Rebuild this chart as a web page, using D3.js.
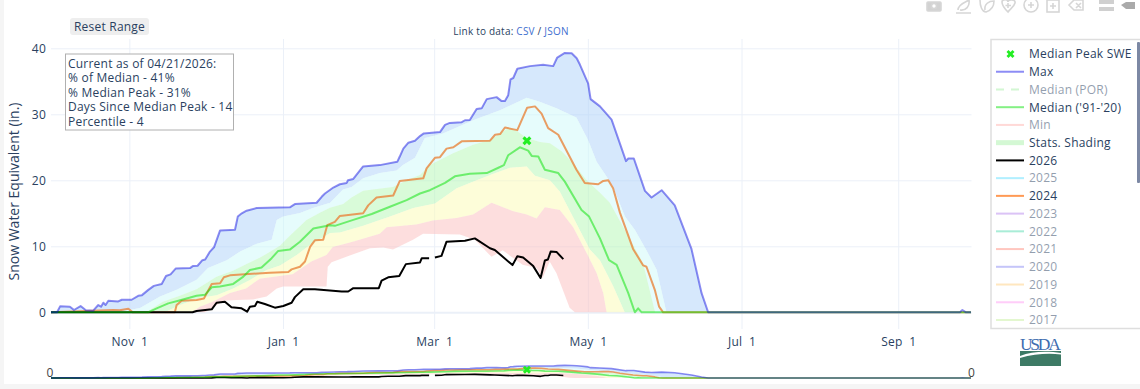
<!DOCTYPE html>
<html><head><meta charset="utf-8">
<script src="https://cdn.jsdelivr.net/npm/d3@7"></script>
<style>html,body{margin:0;padding:0;background:#fff}svg{display:block}text{font-family:"Open Sans",sans-serif;fill:#2a3f5f;white-space:pre;letter-spacing:.22px}</style>
</head><body><svg id="c" width="1140" height="389"></svg>
<script>
// ---- data: days since Oct 1 (axis days) and inches of snow water equivalent ----
const tickDays = [31, 91.8, 151.6, 212.4, 273.2, 335.2];
const tickLabels = ["Nov  1", "Jan  1", "Mar  1", "May  1", "Jul  1", "Sep  1"];
const yTicks = [0, 10, 20, 30, 40];

const maxDays = [0,2.4,3.6,7.5,9.1,11.7,13.8,16.7,18.7,19.8,20.7,21.6,22.7,26.6,28,31.9,34.5,36,38.5,40.7,43.8,45.5,47.3,49.4,55,56.1,58,59.9,61,62.9,64.5,66.9,72.8,73.9,75.5,77.4,81.4,94.5,96.5,105.1,107.1,108.4,111.7,114.3,117,117.5,119.6,123.5,130.1,137,138,139.4,141.4,144,146,147.5,153.9,155.9,157.8,162.5,163.8,165.7,168.4,170.4,172.4,176.3,178.3,179.6,180.9,181.8,182.9,184.5,189.5,194.7,198.7,200.3,203.3,206,208,209.3,212.5,213.5,217.2,221.8,227.5,228.4,230.6,235,237.6,241.6,246.8,253.4,257.4,260,359.6,360.6,362,364];
const maxValues = [0,0,0.9,0.85,0.35,0.95,0.3,0.25,1.1,0.85,1.45,1.1,1.75,1.65,1.9,1.9,2.5,2.6,3.4,4,4.3,5.5,5.75,6.65,6.7,7,7.05,7.9,8,9.2,9.85,12.4,12.5,14.5,15,15.4,15.8,15.9,16.4,16.6,17.5,18,18.9,19.4,19.6,20,20.2,22.1,22.3,22.8,23.6,24.8,25.7,26,26.7,27.1,27.3,28.4,28.7,28.8,29.1,29.15,30.8,30.9,32.3,32.6,32,32,32.9,35.3,35.5,36.9,37.3,37.5,37.3,38.6,39.3,39.25,38.5,37.5,34.7,32.3,31.2,29.2,22.9,23.3,23.3,18.4,17.4,18.5,16.2,9.6,2.9,0,0,0.35,0,0];

const p90Days = [26.1,35.2,43.1,49.7,57.6,62.1,69.5,74.8,81.4,87.3,89.3,91.8,98.5,103.6,110.4,115.5,118.9,123.5,130.1,136.7,139.2,144,147.9,155,167.7,177.6,188.2,193.4,200,207.9,212.5,215.9,218.9,222.3,227.1,231,235.6,239.6,243.5];
const p90Values = [0,0.65,2.4,3.4,4.95,6.7,7.9,9.2,10.4,11,14,14.5,15.05,15.8,16.6,18.6,19,20.3,21.1,21.5,22.3,23.4,26.4,27.1,29.2,30.6,32.5,31.9,30.9,29.5,26.1,22.8,21.1,19.1,14.5,12.5,9.4,6.5,0];

const p70Days = [37.6,44.3,51,57.6,65.5,72,77.4,83.3,90.6,94.5,101.1,106.4,110.4,115.6,118.9,123.5,135.3,140.7,146,149.9,159.1,167,173.7,180.9,184.2,188.2,193.4,197.4,202,206.6,211.9,217.2,221.1,226.3,234.2,239];
const p70Values = [0,1.6,2.5,3.5,5.4,6.3,7.3,8.4,10.1,11.6,14,15.1,15.85,16.4,17.4,18.4,19,20,20.8,22.3,24.1,25.4,26.1,27.9,27.5,26.4,25.8,25.6,24.4,22.6,20,18.1,16.6,13,7.5,0];

const p30Days = [45,51,58.9,65.5,72.1,78.7,85.3,90.6,97.2,102.4,110.4,114.3,123.5,134.1,143.3,151.9,160.5,168.4,175,181.6,188.2,191.5,197.4,201.3,206.6,213.2,217.2,222.4,227];
const p30Values = [0,1.1,2.2,2.6,3.6,4.9,6.4,7.1,8.7,10.2,12,12.1,13.1,14.5,15.8,16.5,18.8,20,21,21.9,22.1,20.7,20,18.3,14.4,9.5,7.9,4,0];

const p10Days = [55.7,58.9,64,70.6,77.2,82.6,95.6,103,109,111.5,119.4,130.1,132.8,144.6,151.1,160.5,167,174.3,182.9,188.2,192.1,195.4,201.3,206.6,211.9,215.9,218.5,219.8];
const p10Values = [0,0.85,1.6,2.9,3.6,5.1,5.75,7.7,8.7,9.9,10.7,11.9,12.9,13.3,13.9,14.3,14.8,16.6,15.3,14.8,14.2,15.9,15.5,12.9,9,5.9,2.9,0];

const minDays = [55.7,60.9,64,68,73.5,80,85.3,89.3,91.8,109,109.5,111,118.2,126.2,131.5,135.3,143.2,147.2,161.8,167.7,174.3,178.7,186.6,192.1,194.5,197.3,200,205.2,207.3,219.8];
const minValues = [0,0,0.65,1.75,1.85,1.95,2.4,3.6,3.9,3.9,6.9,7.6,8.6,9.7,9.8,9.5,11,11.9,11.8,11,8.4,9.4,7.2,6.7,5.2,7.7,5.9,0.7,0,0];

const medianDays = [0,38.4,41.8,46.4,50.4,57.6,60.9,63.6,66.9,72.1,76.1,78.7,83.3,87.3,89.9,94.5,98.5,103.8,110.4,112.3,119.6,126.9,134.1,140.7,146,149.9,155.9,159.8,165.7,172.4,177,179.2,180.9,185.5,188.8,190.2,192.8,195.4,200.7,203.3,209.9,212.9,217.2,220.8,223.8,228.4,231,232.3,233.7,364];
const medianValues = [0,0,0.6,1.35,1.75,2.5,2.65,3.8,3.9,4.3,5.4,6.4,6.8,8.2,9.3,9.5,10.7,12.7,13.2,13.1,14,14.9,16,17,18,18.5,19.6,20.6,21,21.1,21.9,22.3,23.8,25,24.5,23.7,23.6,21.6,21.1,19.8,15.5,14.5,11.2,7.9,7.2,2.9,0,0.6,0,0];

const y2024Days = [0,24.6,27.2,30.6,32,32.4,49,49.7,51.7,57.6,60.5,63.6,66.9,68.4,70.8,86.6,93.9,95.2,98.5,100.5,102.5,104.4,107.7,109.3,112.3,114.3,123.5,125.5,128.8,135.4,138,147.3,148.6,151.9,153.9,156.5,159.2,162.5,173.7,175.7,177.7,179.6,184.5,188.4,191.5,194.1,196.7,200.7,207.9,211.2,216.5,218.5,220.5,222.4,225.1,230.3,234.3,235.6,238.9,240.6,242.2,364];
const y2024Values = [0,0.35,0.3,0.55,0.1,0,0,1.1,1.75,1.85,2.1,4.3,4.4,5.3,5.6,6,6.1,6.5,6.9,7.7,9.9,10.9,11,13.2,13.7,14.6,15,16.2,17.4,17.7,19.9,20.3,21.8,23.4,23.5,24.8,25,25.9,26,26.9,27,28,27.6,31,31.2,30.1,27.9,26.9,21.6,19.6,19.4,19.9,20,18.8,15.1,9.6,7.1,6.9,3.4,0.85,0,0];

const y2026Days = [0,56,57.6,63.6,65.5,68.8,71.4,75.4,77.6,78.7,80.7,81.6,84.6,88.6,91.9,95.2,96.5,99.8,104.4,115,117.6,119.6,129.7,130.8,133.4,137.8,140.4,146,146.7,149.6,150.7,151.9,154.5,156.5,163.8,167.7,173.7,175.6,182.6,184.5,186.8,190.8,193.7,195.4,196.6,197.7,200,202.7];
const y2026Values = [0,0,0.2,0.45,1.45,1.6,0.75,0.6,0.1,0.85,0.95,1.6,1.25,0.7,0.95,1.45,2.3,3.5,3.5,3.15,3.15,3.65,3.65,4.8,5.3,5.5,7.3,7.55,8.2,8.2,null,8.3,8.55,10.7,10.85,11.2,9.7,9.45,7.15,8.5,8.3,7,5.2,7.85,8,9.2,9.15,8.05];

const peakDay = [188.3];
const peakValue = [26];

const noteLines = ["Current as of 04/21/2026:","% of Median - 41%","% Median Peak - 31%","Days Since Median Peak - 14","Percentile - 4"];
const legendNames = ["Median Peak SWE","Max","Median (POR)","Median ('91-'20)","Min","Stats. Shading","2026","2025","2024","2023","2022","2021","2020","2019","2018","2017"];
const legendColors = ["#22ee22","#8c8cf5","#a8f0a8","#84f084","#ffb4b0","#d4f8d4","#000000","#66e0ff","#ff9a55","#b888ee","#55dcb0","#ff8f80","#8c8cf5","#ffd080","#ff9cf5","#c8f0a0"];
const legendHidden = [0,0,1,0,1,0,0,1,0,1,1,1,1,1,1,1];
const bandColors = ["#add1f9","#cdf9f9","#b3f7b3","#fbfbb3","#fbbdbd"];

// ---- layout ----
const svg = d3.select("#c");
const W = 1140, H = 389;
const L = 51, R = 971.5, T = 39, B = 329;
const x = d3.scaleLinear().domain([0, 364.2]).range([L, R]);
const y = d3.scaleLinear().domain([0, 40]).range([312.3, 48.3]);
const ySmall = d3.scaleLinear().domain([0, 40]).range([378, 365.2]);
const pairs = (a, b) => a.map((d, i) => [d, b[i]]);

svg.append("rect").attr("width", W).attr("height", H).attr("fill", "#fff");
svg.append("rect").attr("width", 4).attr("height", H).attr("fill", "#f5f5f5");
svg.append("rect").attr("y", 384).attr("width", W).attr("height", 5).attr("fill", "#f5f5f5");

// grid and axes
const grid = "#ebf0f8";
const font = '"Open Sans"';
const gx = svg.append("g").attr("transform", `translate(0,${B})`)
  .call(d3.axisBottom(x).tickValues(tickDays).tickFormat((d, i) => tickLabels[i]).tickSize(-(B - T)).tickPadding(8));
gx.select(".domain").remove();
gx.selectAll("line").attr("stroke", grid);
gx.selectAll("text").attr("font-size", 12).style("font-family", font);
const gy = svg.append("g").attr("transform", `translate(${L},0)`)
  .call(d3.axisLeft(y).tickValues(yTicks).tickSize(-(R - L)).tickPadding(5));
gy.select(".domain").remove();
gy.selectAll("line").attr("stroke", grid);
gy.selectAll("text").attr("font-size", 12).style("font-family", font);
gy.selectAll("g.tick").filter(d => d === 0).select("line").attr("stroke-width", 2);

function draw(g, ys, thin) {
  const line = d3.line().defined(d => d[1] !== null).x(d => x(d[0])).y(d => ys(d[1]));
  const band = (up, lo, color) => g.append("path")
    .attr("d", line(up.concat(lo.slice().reverse())) + "Z").attr("fill", color).attr("fill-opacity", 0.5);
  const maxP = pairs(maxDays, maxValues), p90 = pairs(p90Days, p90Values), p70 = pairs(p70Days, p70Values),
        p30 = pairs(p30Days, p30Values), p10 = pairs(p10Days, p10Values), mn = pairs(minDays, minValues);
  const maxTop = maxP.filter(d => d[0] <= 260);
  band(maxTop, [[0, 0]].concat(p90, [[260, 0]]), bandColors[0]);
  band(p90, p70, bandColors[1]);
  band(p70, p30, bandColors[2]);
  band(p30, p10, bandColors[3]);
  band(p10, mn, bandColors[4]);
  const stroke = (data, color, w, op) => g.append("path").attr("d", line(data)).attr("fill", "none")
    .attr("stroke", color).attr("stroke-width", w).attr("stroke-opacity", op).attr("stroke-linejoin", "round");
  const w = thin ? 1.6 : 2;
  stroke(pairs(y2024Days, y2024Values), "#e8853c", w, 0.8);
  stroke(pairs(y2026Days, y2026Values), "#000", w, 1);
  stroke(pairs(medianDays, medianValues), "#00e100", w, 0.5);
  stroke(maxP, "#0101e1", w, 0.45);
  g.append("path").attr("d", d3.symbol(d3.symbolCross, thin ? 40 : 50)())
    .attr("transform", `translate(${x(peakDay[0])},${ys(peakValue[0])}) rotate(45)`).attr("fill", "#22ee22");
}
draw(svg.append("g"), y, false);
draw(svg.append("g"), ySmall, true);

// slider end labels
[L - 1, R].forEach(px => svg.append("text").attr("x", px).attr("y", 377).attr("text-anchor", "middle")
  .attr("font-size", 12).style("fill", "#444").text("0"));

// titles
svg.append("text").attr("transform", "translate(19,191.5) rotate(-90)").attr("text-anchor", "middle")
  .attr("font-size", 14).style("letter-spacing", "0").text("Snow Water Equivalent (in.)");
const link = svg.append("text").attr("x", 511).attr("y", 34.5).attr("text-anchor", "middle").attr("font-size", 10);
link.append("tspan").text("Link to data: ");
link.append("tspan").style("fill", "#3f6fd0").text("CSV");
link.append("tspan").text(" / ");
link.append("tspan").style("fill", "#3f6fd0").text("JSON");

// reset button
svg.append("rect").attr("x", 70).attr("y", 18).attr("width", 79).attr("height", 17).attr("rx", 3).attr("fill", "#eeeeee");
svg.append("text").attr("x", 109.5).attr("y", 30.5).attr("text-anchor", "middle").attr("font-size", 12).text("Reset Range");

// note box
svg.append("rect").attr("x", 65.5).attr("y", 54).attr("width", 168).attr("height", 76)
  .attr("fill", "#fff").attr("stroke", "#b0b0b0").attr("stroke-width", 1);
const note = svg.append("text").attr("font-size", 12);
noteLines.forEach((t, i) => note.append("tspan").attr("x", 68).attr("y", 67.5 + i * 14.6).text(t));

// legend
svg.append("rect").attr("x", 991).attr("y", 39.5).attr("width", 160).attr("height", 289)
  .attr("fill", "#fff").attr("stroke", "#dedede").attr("stroke-width", 1.5);
svg.append("rect").attr("x", 1137).attr("y", 42).attr("width", 3).attr("height", 141).attr("rx", 1).attr("fill", "#7c88a4");
const ly = d3.scaleLinear().domain([0, legendNames.length - 1]).range([54, 320]);
legendNames.forEach((name, i) => {
  const g = svg.append("g").attr("transform", `translate(0,${ly(i)})`).attr("opacity", legendHidden[i] ? 0.5 : 1);
  if (i === 0) {
    g.append("path").attr("d", d3.symbol(d3.symbolCross, 40)()).attr("transform", "translate(1010.5,0) rotate(45)").attr("fill", legendColors[i]);
  } else if (name === "Stats. Shading") {
    g.append("rect").attr("x", 996).attr("y", -2.5).attr("width", 28).attr("height", 5).attr("fill", legendColors[i]);
  } else {
    const l = g.append("line").attr("x1", 996).attr("x2", 1024).attr("stroke", legendColors[i]).attr("stroke-width", 2);
    if (name === "Median (POR)") l.attr("stroke-dasharray", "8,7");
  }
  g.append("text").attr("x", 1029).attr("y", 4.3).attr("font-size", 12).text(name);
});

// USDA logo
svg.append("text").attr("x", 1040.5).attr("y", 350).attr("text-anchor", "middle").attr("font-size", 17.5)
  .style("font-family", '"Liberation Serif"').style("fill", "#3f6db0").attr("textLength", 41).text("USDA");
svg.append("rect").attr("x", 1020).attr("y", 351).attr("width", 41).attr("height", 15).attr("fill", "#3d7a65");
svg.append("path").attr("d", "M1020,356 C1032,351 1048,351 1061,353 L1061,354.5 C1048,353 1034,354 1020,358Z").attr("fill", "#fff");

// mode bar (faint icons)
const ic = svg.append("g").attr("fill", "none").attr("stroke", "#d6d6d6").attr("stroke-width", 1.6);
ic.append("rect").attr("x", 927).attr("y", 2).attr("width", 14).attr("height", 9).attr("rx", 1).attr("fill", "#d2d2d2");
ic.append("circle").attr("cx", 934).attr("cy", 6).attr("r", 2.5).attr("fill", "#fff");
ic.append("path").attr("d", "M958,10 C958,4 966,2 969,0 C970,6 966,11 960,10 M956,13 H971");
ic.append("path").attr("d", "M980,0 C980,6 982,12 986,12 C992,10 994,5 994,1 C989,1 984,4 985,10");
ic.append("path").attr("d", "M1002,2 C1002,-1 1008,-1 1008,2 C1008,-1 1016,-1 1015,3 C1014,7 1010,9 1008,12 C1005,9 1002,6 1002,2Z M1008,3 V8 M1005.5,5.5 H1011");
ic.append("circle").attr("cx", 1031).attr("cy", 5).attr("r", 7);
ic.append("path").attr("d", "M1031,2 V8 M1028,5 H1034");
ic.append("rect").attr("x", 1047).attr("y", 0).attr("width", 12).attr("height", 12);
ic.append("path").attr("d", "M1053,3 V9 M1050,6 H1056");
ic.append("path").attr("d", "M1069,5 L1074,0 H1083 V10 H1074Z M1076,3 L1081,8 M1081,3 L1076,8");
const ic2 = svg.append("g").attr("fill", "#d0d0d0");
ic2.append("rect").attr("x", 1099).attr("y", 0).attr("width", 15).attr("height", 4);
ic2.append("rect").attr("x", 1099).attr("y", 7).attr("width", 15).attr("height", 4);
ic2.append("path").attr("d", "M1121,5 L1126,2 H1135 V9 H1126Z").attr("fill", "#aaaaaa");
</script></body></html>
